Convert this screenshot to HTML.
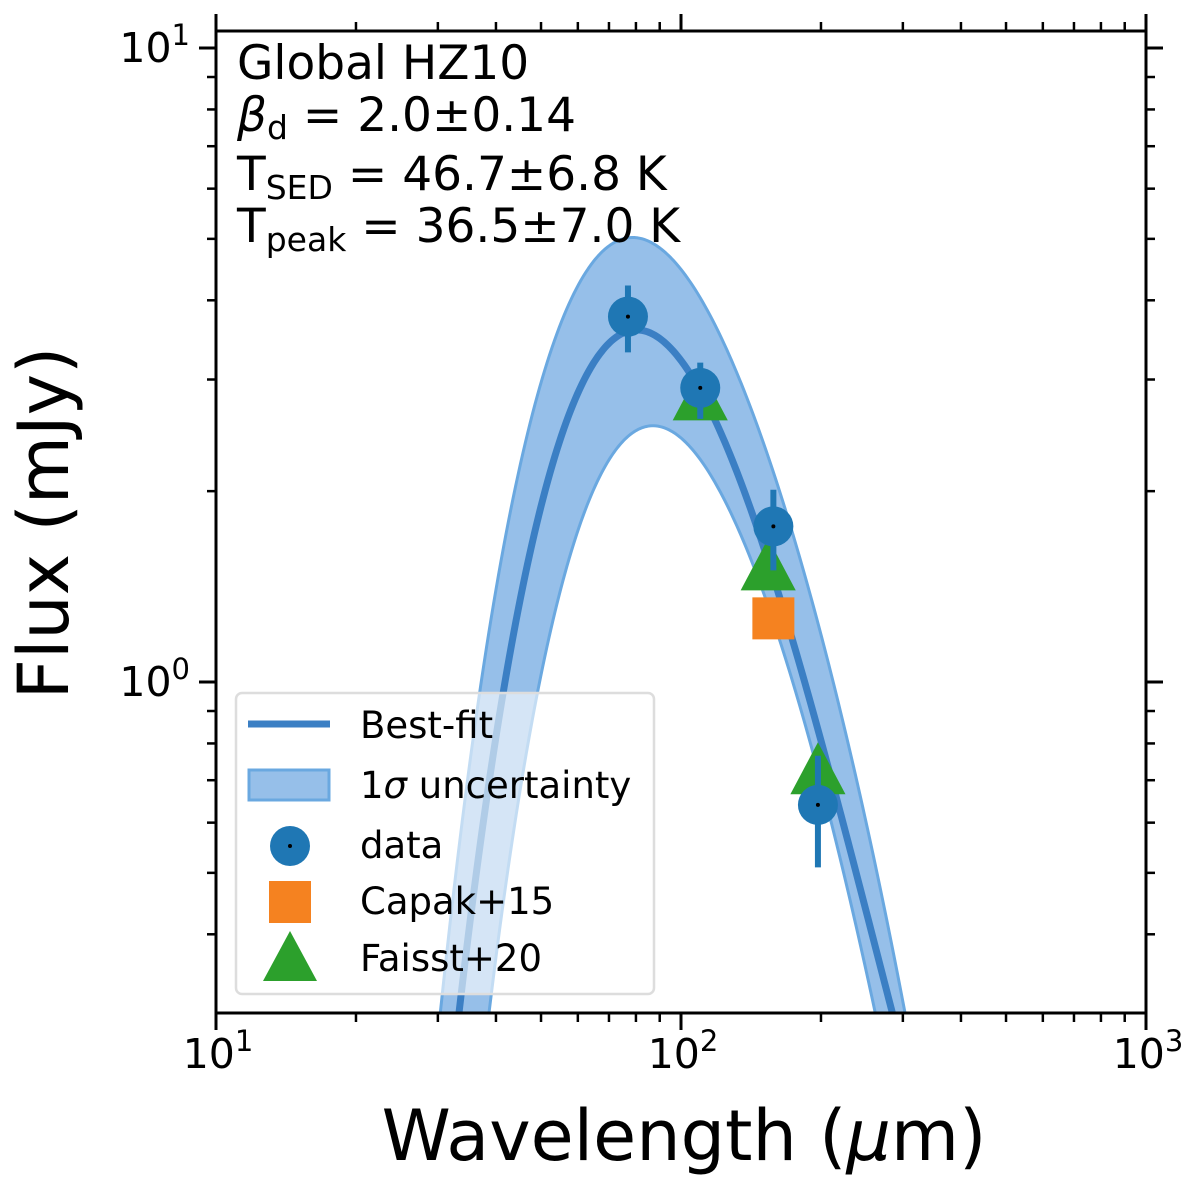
<!DOCTYPE html>
<html><head><meta charset="utf-8"><style>
html,body{margin:0;padding:0;background:#fff;}
svg{display:block;font-family:"DejaVu Sans","Liberation Sans",sans-serif;}
</style></head><body>
<svg id="chart" width="1200" height="1200" viewBox="0 0 1200 1200" xmlns="http://www.w3.org/2000/svg"></svg>
<script>
// ---- data ----
const fitLambda = [33.0, 38.3, 41.4, 44.4, 47.4, 51.5, 55.8, 62.8, 77.7, 81.6, 119.6, 140.8, 171.6, 206, 251, 286];
const fitFlux   = [0.302, 0.576, 0.971, 1.285, 1.633, 2.083, 2.618, 3.106, 3.488, 3.513, 2.580, 1.854, 1.195, 0.756, 0.437, 0.293];
const upLambda  = [30.3, 33.8, 36.96, 40.8, 44.4, 49.0, 54.1, 62.8, 78.9, 104.6, 134.0, 169.0, 206, 259, 306];
const upFlux    = [0.302, 0.576, 0.971, 1.540, 2.083, 2.816, 3.591, 4.515, 4.891, 4.228, 3.039, 1.854, 1.091, 0.524, 0.293];
const loLambda  = [38.3, 45.1, 49.0, 53.0, 57.7, 62.8, 70.4, 85.8, 113.7, 138.7, 169.0, 206, 259];
const loFlux    = [0.302, 0.576, 0.971, 1.314, 1.633, 1.958, 2.264, 2.461, 2.144, 1.603, 1.072, 0.654, 0.308];
const dataLambda = [76.9, 110, 158, 197];
const dataFlux   = [3.77, 2.91, 1.76, 0.64];
const dataErrHi  = [4.22, 3.19, 2.01, 0.765];
const dataErrLo  = [3.31, 2.60, 1.50, 0.51];
const capakLambda = [158];
const capakFlux   = [1.26];
const faisstLambda = [110, 154, 197];
const faisstFlux   = [2.80, 1.51, 0.72];
const xTickLabels = ["1", "2", "3"];
const yTickExps = ["0", "1"];

// ---- axes ----
const L=216,R=1146,T=31,B=1013;
const xs = v => 216 + (Math.log10(v)-1)*465;
const ys = v => 682 - Math.log10(v)*634;
const NS="http://www.w3.org/2000/svg";
const svg=document.getElementById('chart');
function mk(tag, attrs, parent){const e=document.createElementNS(NS,tag);for(const k in attrs)e.setAttribute(k,attrs[k]);(parent||svg).appendChild(e);return e;}

const defs=mk('defs',{});
const cp=mk('clipPath',{id:'clip'},defs);
mk('rect',{x:L,y:T,width:R-L,height:B-T},cp);

// least-squares polynomial smoothing in log-log space
function polyFit(lx, fy, deg){
  const u=lx.map(v=>Math.log10(v)-1.9), w=fy.map(v=>Math.log10(v));
  const n=deg+1, A=[], b=[];
  for(let i=0;i<n;i++){A.push(new Array(n).fill(0));b.push(0);}
  u.forEach((x,k)=>{
    for(let i=0;i<n;i++){
      for(let j=0;j<n;j++)A[i][j]+=Math.pow(x,i+j);
      b[i]+=w[k]*Math.pow(x,i);
    }
  });
  for(let c=0;c<n;c++){
    let p=c;for(let r=c+1;r<n;r++)if(Math.abs(A[r][c])>Math.abs(A[p][c]))p=r;
    [A[c],A[p]]=[A[p],A[c]];[b[c],b[p]]=[b[p],b[c]];
    for(let r=0;r<n;r++){if(r===c)continue;const f=A[r][c]/A[c][c];for(let j=c;j<n;j++)A[r][j]-=f*A[c][j];b[r]-=f*b[c];}
  }
  const coef=b.map((v,i)=>v/A[i][i]);
  return lam=>{const x=Math.log10(lam)-1.9;let s=0;for(let i=n-1;i>=0;i--)s=s*x+coef[i];return Math.pow(10,s);};
}
function samplePts(lx, fy){
  const f=polyFit(lx,fy,4);
  const a=Math.log10(lx[0])-0.02, z=Math.log10(lx[lx.length-1])+0.02, pts=[];
  for(let i=0;i<=200;i++){const l=Math.pow(10,a+(z-a)*i/200);pts.push([xs(l),ys(f(l))]);}
  return pts;
}
const toD=pts=>pts.map((p,i)=>(i?'L':'M')+p[0].toFixed(2)+','+p[1].toFixed(2)).join(' ');
const upPts=samplePts(upLambda,upFlux), loPts=samplePts(loLambda,loFlux).reverse();

const g=mk('g',{'clip-path':'url(#clip)'});
const band=mk('path',{d:toD(upPts.concat(loPts))+' Z',fill:'#4a90d9','fill-opacity':0.58,stroke:'#6aa8e0','stroke-width':3,'stroke-linejoin':'round'},g);


const fit=mk('path',{d:toD(samplePts(fitLambda,fitFlux)),fill:'none',stroke:'#3b7fc4','stroke-width':7},g);



function tri(cx,cy,s,parent){return mk('polygon',{points:`${cx},${cy-s*0.58} ${cx-s*0.53},${cy+s*0.42} ${cx+s*0.53},${cy+s*0.42}`,fill:'#2ca02c'},parent);}
faisstLambda.forEach((v,i)=>{
  const t=tri(xs(v),ys(faisstFlux[i]),52,g);
  
  
});
capakLambda.forEach((v,i)=>{
  const r=mk('rect',{x:xs(v)-21,y:ys(capakFlux[i])-21,width:42,height:42,fill:'#f58220'},g);
  
  
});
dataLambda.forEach((v,i)=>{
  const cx=xs(v);
  const e=mk('line',{x1:cx,x2:cx,y1:ys(dataErrHi[i]),y2:ys(dataErrLo[i]),stroke:'#1f77b4','stroke-width':6},g);
  
  
  const c=mk('circle',{cx:cx,cy:ys(dataFlux[i]),r:20,fill:'#1f77b4'},g);
  
  
  mk('circle',{cx:cx,cy:ys(dataFlux[i]),r:2,fill:'#000'},g);
});

const frame=mk('rect',{x:L,y:T,width:R-L,height:B-T,fill:'none',stroke:'#000','stroke-width':3});



for(let e=1;e<=3;e++){
  for(let m=1;m<10;m++){
    if(e===3&&m>1)break;
    const v=m*Math.pow(10,e), x=xs(v), len=m===1?17:9, w=m===1?3:2.5;
    mk('line',{x1:x,x2:x,y1:B,y2:B+len,stroke:'#000','stroke-width':w});
    mk('line',{x1:x,x2:x,y1:T,y2:T-len,stroke:'#000','stroke-width':w});
  }
}
for(let e=-1;e<=1;e++){
  for(let m=1;m<10;m++){
    const v=m*Math.pow(10,e), y=ys(v);
    if(y<T-0.5||y>B+0.5)continue;
    const len=m===1?17:9, w=m===1?3:2.5;
    mk('line',{x1:L,x2:L-len,y1:y,y2:y,stroke:'#000','stroke-width':w});
    mk('line',{x1:R,x2:R+len,y1:y,y2:y,stroke:'#000','stroke-width':w});
  }
}
xTickLabels.forEach((ex,i)=>{
  const t=mk('text',{x:xs(Math.pow(10,i+1))+2,y:1068,'font-size':41,'text-anchor':'middle'});
  t.innerHTML=`10<tspan dy="-17" font-size="29">${ex}</tspan>`;
  
  
});
yTickExps.forEach((ex,i)=>{
  const t=mk('text',{x:190,y:ys(Math.pow(10,i))+14,'font-size':41,'text-anchor':'end'});
  t.innerHTML=`10<tspan dy="-17" font-size="29">${ex}</tspan>`;
  
  
});
</script>
<svg style="position:absolute;left:0;top:0" width="1200" height="1200" xmlns="http://www.w3.org/2000/svg">
<g font-family="DejaVu Sans, Liberation Sans, sans-serif" fill="#000">
<text x="684" y="1160" font-size="70" text-anchor="middle">Wavelength (<tspan font-style="italic">μ</tspan>m)</text>
<text transform="translate(68,523) rotate(-90)" font-size="70" text-anchor="middle">Flux (mJy)</text>
<text x="237" y="79" font-size="47">Global HZ10</text>
<text x="237" y="131" font-size="47"><tspan font-style="italic">β</tspan><tspan font-size="33" dy="8">d</tspan><tspan dy="-8"> = 2.0±0.14</tspan></text>
<text x="237" y="190" font-size="47">T<tspan font-size="33" dy="9">SED</tspan><tspan dy="-9"> = 46.7±6.8 K</tspan></text>
<text x="237" y="242" font-size="47">T<tspan font-size="33" dy="9">peak</tspan><tspan dy="-9"> = 36.5±7.0 K</tspan></text>
</g>
<g font-family="DejaVu Sans, Liberation Sans, sans-serif" font-size="37">
<rect x="236" y="693" width="418" height="301" rx="6" fill="#fff" fill-opacity="0.6" stroke="#ddd" stroke-width="2.5"/>
<line x1="248" x2="330" y1="724" y2="724" stroke="#3b7fc4" stroke-width="7"/>
<text x="360" y="738">Best-fit</text>
<rect x="249" y="770" width="80" height="30" fill="#4a90d9" fill-opacity="0.58" stroke="#6aa8e0" stroke-width="3"/>
<text x="360" y="798">1<tspan font-style="italic">σ</tspan> uncertainty</text>
<circle cx="290" cy="846" r="20" fill="#1f77b4"/><circle cx="290" cy="846" r="2" fill="#000"/>
<text x="360" y="858">data</text>
<rect x="269" y="881" width="42" height="42" fill="#f58220"/>
<text x="360" y="914">Capak+15</text>
<polygon points="290,931 263,981 317,981" fill="#2ca02c"/>
<text x="360" y="971">Faisst+20</text>
</g>
</svg>
</body></html>
